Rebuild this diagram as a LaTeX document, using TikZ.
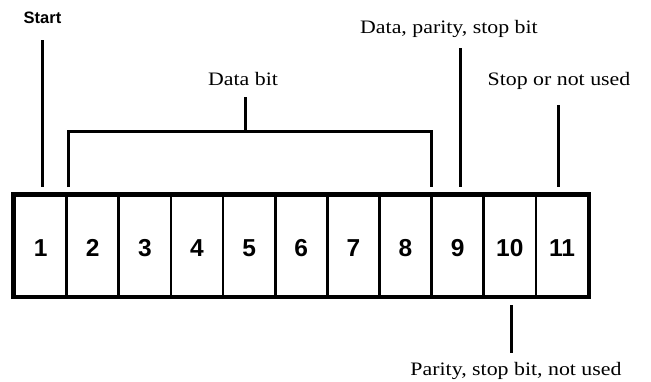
\documentclass[tikz,border=0pt]{standalone}
\usepackage{fontspec}
\setmainfont{Liberation Serif}
\newfontfamily\numfont{Liberation Sans}
\newfontfamily\lblfont[FakeStretch=1.15]{Liberation Serif}
\begin{document}
\begin{tikzpicture}[x=1pt,y=-1pt,
  cell/.style={draw,line width=2.6pt,minimum width=52.14pt,minimum height=100.5pt,inner sep=0pt,
    text height=22pt,text depth=0pt,
    font=\numfont\bfseries\fontsize{24.5}{24.5}\selectfont},
  lbl/.style={inner sep=0pt,font=\lblfont\fontsize{19}{19}\selectfont},
  lead/.style={line width=3pt}]
\useasboundingbox (0,0) rectangle (651,381);
\foreach \i in {1,...,11}{
  \node[cell] (c\i) at ({14.5+(\i-0.5)*52.14},245.75) {\i};
}
\draw[line width=4pt] (c1.north west) rectangle (c11.south east);
% labels
\node[inner sep=0pt,font=\numfont\bfseries\fontsize{16.5}{16.5}\selectfont] (lstart) at (42.5,18) {Start};
\node[lbl] (ldata) at (243,79) {Data bit};
\node[lbl] (ldps) at (449,29) {Data, parity, stop bit};
\node[lbl] (lstop) at (559,81) {Stop or not used};
\node[lbl] (lpar) at (516,371) {Parity, stop bit, not used};
% connector ends
\coordinate (s1) at (42.5,40);   \coordinate (s2) at (42.5,187);
\coordinate (b1) at (68,187);    \coordinate (b2) at (68,131);
\coordinate (b3) at (431,131);   \coordinate (b4) at (431,187);
\coordinate (bs) at (245,97);    \coordinate (bm) at (245,131);
\coordinate (d1) at (460,48);    \coordinate (d2) at (460,187);
\coordinate (t1) at (558,105);   \coordinate (t2) at (558,187);
\coordinate (p1) at (511,305);   \coordinate (p2) at (511,353);
\draw[lead] (s1) -- (s2);
\draw[lead] (b1) -- (b2) -- (b3) -- (b4);
\draw[lead] (bs) -- (bm);
\draw[lead] (d1) -- (d2);
\draw[lead] (t1) -- (t2);
\draw[lead] (p1) -- (p2);
\end{tikzpicture}
\end{document}
